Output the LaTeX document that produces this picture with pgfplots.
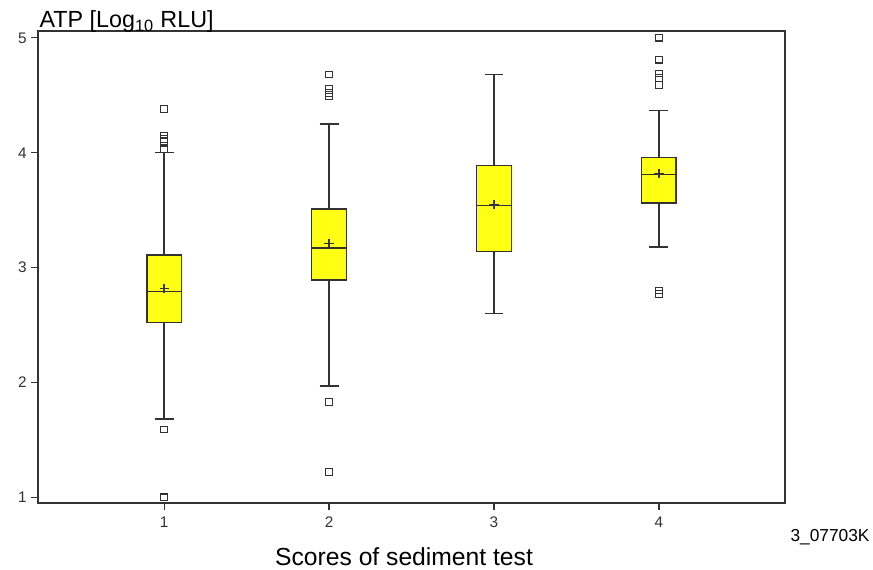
\documentclass[border=0pt]{standalone}
\usepackage{fontspec}
\setmainfont{Liberation Sans}
\usepackage{pgfplots}
\pgfplotsset{compat=1.18}
\usepgfplotslibrary{statistics}
\definecolor{boxyellow}{HTML}{FFFF14}
\definecolor{linegray}{HTML}{333333}
\begin{document}
\begin{tikzpicture}
\useasboundingbox (-28.5pt,-50.25pt) rectangle (626.25pt,377.25pt);
\begin{axis}[
  scale only axis, width=560.25pt, height=354pt,
  xmin=0.236, xmax=4.764, ymin=0.95, ymax=5.06,
  xtick={1,2,3,4}, ytick={1,2,3,4,5},
  xtick pos=bottom, ytick pos=left,
  tick align=outside, major tick length=5pt,
  tick style={linegray, line width=0.8pt},
  axis line style={linegray, line width=1pt},
  /pgf/number format/assume math mode=true,
  ticklabel style={font=\fontsize{11.5}{13}\selectfont, text=linegray},
  xticklabel style={yshift=-2pt},
  xlabel={Scores of sediment test},
  xlabel style={at={(rel axis cs:0.49,-0.114)}, anchor=center, font=\fontsize{18.5}{21}\selectfont},
  ylabel={ATP [Log\textsubscript{10} RLU]},
  ylabel style={at={(rel axis cs:0,1)}, anchor=south west, rotate=-90, xshift=1pt, yshift=-1.5pt, font=\fontsize{17.5}{20}\selectfont, inner sep=0pt},
  boxplot/draw direction=y,
  boxplot/every average/.style={/tikz/mark=+, /tikz/mark size=3.4pt, /tikz/draw=black, /tikz/line width=0.9pt},
  boxplot/every box/.style={draw=linegray, line width=1.2pt, fill=boxyellow},
  boxplot/every whisker/.style={draw=linegray, line width=1pt},
  boxplot/every median/.style={draw=linegray, line width=1.2pt},
  clip mode=individual,
]
\pgfplotsset{mybox/.style={fill=boxyellow, draw=linegray, line width=1.1pt, mark=square, mark size=2.4pt, mark options={fill=none, draw=linegray, line width=0.9pt}}}
\addplot[mybox, boxplot prepared={draw position=1, lower whisker=1.68, lower quartile=2.52, median=2.79, upper quartile=3.11, upper whisker=4.00, average=2.82, box extend=0.21, whisker extend=0.115}]
 table[row sep=\\, y index=0] {data\\ 4.38\\ 4.15\\ 4.12\\ 4.10\\ 4.03\\ 1.59\\ 1.00\\};
\addplot[mybox, boxplot prepared={draw position=2, lower whisker=1.97, lower quartile=2.89, median=3.17, upper quartile=3.51, upper whisker=4.25, average=3.21, box extend=0.21, whisker extend=0.115}]
 table[row sep=\\, y index=0] {data\\ 4.68\\ 4.56\\ 4.52\\ 4.49\\ 1.83\\ 1.22\\};
\addplot[mybox, boxplot prepared={draw position=3, lower whisker=2.60, lower quartile=3.14, median=3.54, upper quartile=3.89, upper whisker=4.68, average=3.55, box extend=0.21, whisker extend=0.115}]
 table[row sep=\\, y index=0] {data\\ 9\\};
\addplot[mybox, boxplot prepared={draw position=4, lower whisker=3.18, lower quartile=3.56, median=3.81, upper quartile=3.96, upper whisker=4.37, average=3.82, box extend=0.21, whisker extend=0.115}]
 table[row sep=\\, y index=0] {data\\ 5.00\\ 4.81\\ 4.69\\ 4.65\\ 4.59\\ 2.80\\ 2.77\\};
\node[anchor=west, font=\fontsize{13}{15}\selectfont, inner sep=0pt] at (rel axis cs:1.007,-0.072) {3\_07703K};
\end{axis}
\end{tikzpicture}
\end{document}
